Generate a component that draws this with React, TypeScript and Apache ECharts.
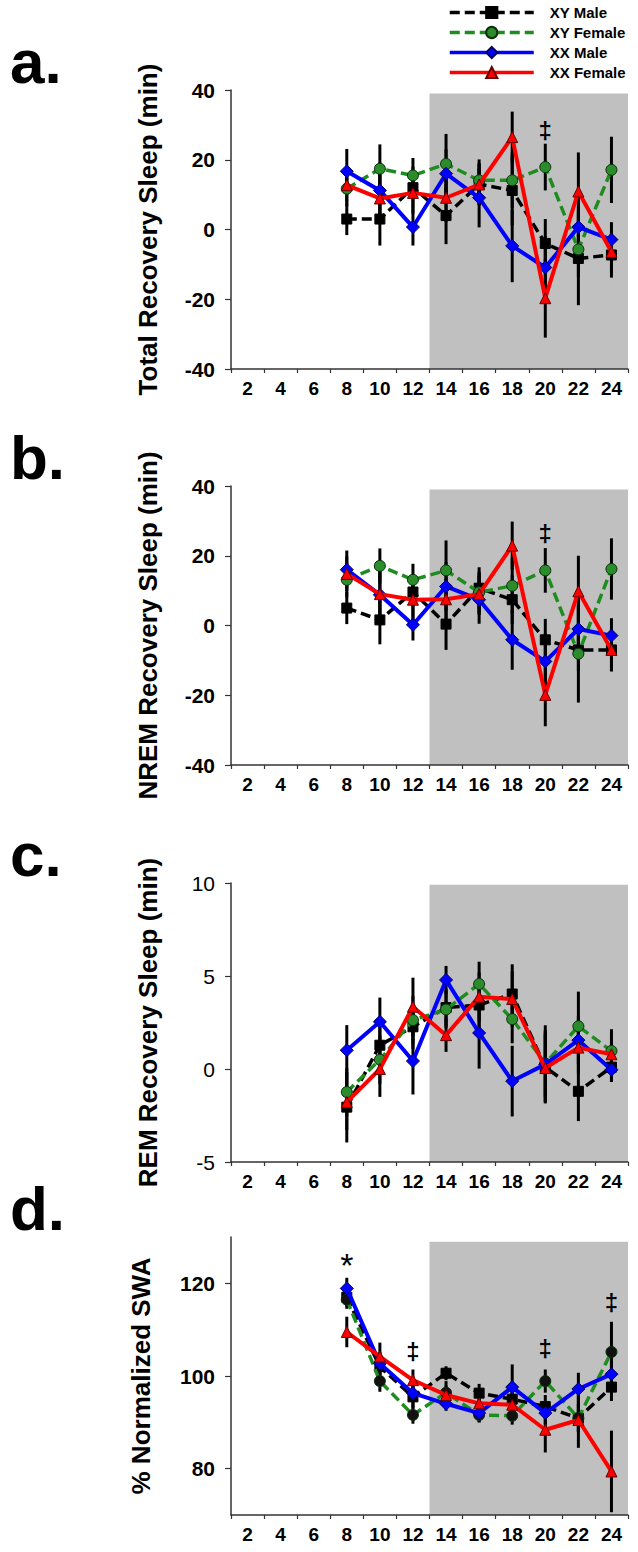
import React, { useEffect, useRef } from 'react';
import * as echarts from 'echarts';

// x axis categories (hour)
const hours = ['2', '4', '6', '8', '10', '12', '14', '16', '18', '20', '22', '24'];
const dataHours = ['8', '10', '12', '14', '16', '18', '20', '22', '24'];
const seriesNames = ['XY Male', 'XY Female', 'XX Male', 'XX Female'];
const shadeFrom = '14';
const shadeTo = '24';

// a. Total recovery sleep (min)
const totalXYMale = [3, 3, 12, 4, 13, 11.2, -4, -8.3, -7.3];
const totalXYMaleErr = [4.6, 7.6, 6, 8.2, 6, 10, 7, 13.4, 6.5];
const totalXYFemale = [11.7, 17.4, 15.5, 18.8, 14.1, 14.1, 17.9, -5.7, 17.1];
const totalXYFemaleErr = [5, 7, 5, 8.6, 6, 8, 6.7, 8, 9.5];
const totalXXMale = [16.7, 11.2, 0.7, 16, 9.1, -4.7, -10.9, 0.7, -2.9];
const totalXXMaleErr = [6.4, 8, 5.3, 7, 8.5, 10.4, 9, 9, 5];
const totalXXFemale = [12.7, 8.9, 10.5, 9.1, 12.9, 26.5, -19.7, 10.9, -6.4];
const totalXXFemaleErr = [5, 7, 6, 7, 6, 7.3, 11.3, 11.2, 6];
const totalTicks = [-40, -20, 0, 20, 40];

// b. NREM recovery sleep (min)
const nremXYMale = [5, 1.6, 9.6, 0.4, 10.7, 7.4, -4.1, -7, -7];
const nremXYMaleErr = [4.6, 7, 5, 7.4, 6, 7, 6, 6, 6];
const nremXYFemale = [13.1, 17.1, 13.1, 15.8, 9.5, 11.4, 15.8, -8.1, 16.2];
const nremXYFemaleErr = [5, 5, 4.6, 8.6, 6, 8, 6.4, 14, 8.8];
const nremXXMale = [16, 8.8, 0.2, 11.2, 7.4, -4.1, -10.3, -1, -2.9];
const nremXXMaleErr = [5.5, 8, 4.5, 7, 6.9, 8.6, 8, 9, 5];
const nremXXFemale = [14.8, 9, 7.4, 7.5, 9, 22.9, -19.9, 9.8, -7];
const nremXXFemaleErr = [5, 7, 6, 6, 6, 6.9, 9, 10.2, 6.2];
const nremTicks = [-40, -20, 0, 20, 40];

// c. REM recovery sleep (min)
const remXYMale = [-2.05, 1.28, 2.27, 3.3, 3.44, 4.03, 0.1, -1.2, 0.1];
const remXYMaleErr = [1.9, 1.2, 1.2, 1.0, 1.3, 1.6, 1.9, 1.6, 0.8];
const remXYFemale = [-1.24, 0.5, 2.63, 3.2, 4.57, 2.68, 0.3, 2.3, 0.97];
const remXYFemaleErr = [1.3, 1.3, 1.3, 1.0, 1.2, 1.3, 1.8, 1.86, 1.17];
const remXXMale = [1.01, 2.54, 0.43, 4.79, 1.94, -0.65, 0.25, 1.55, -0.04];
const remXXMaleErr = [1.35, 1.3, 1.8, 0.75, 1.92, 1.9, 2.1, 1.3, 0.66];
const remXXFemale = [-1.78, 0, 3.35, 1.82, 3.89, 3.76, 0.05, 1.15, 0.79];
const remXXFemaleErr = [1.5, 1.5, 1.56, 0.9, 1.3, 1.5, 1.8, 1.4, 0.9];
const remTicks = [-5, 0, 5, 10];

// d. % normalized SWA
const swaXYMale = [117, 102, 95.5, 100.6, 96.3, 95, 93.4, 90.9, 97.6];
const swaXYMaleErr = [2, 2.5, 2.5, 1.5, 2, 3, 2.5, 3, 3];
const swaXYFemale = [116.5, 98.9, 91.6, 96.4, 91.6, 91.4, 98.9, 90.9, 105.2];
const swaXYFemaleErr = [2, 2.3, 1.9, 2.5, 1.6, 1.9, 2.5, 3, 6.5];
const swaXXMale = [118.9, 102.7, 96.3, 94, 92, 97.6, 92, 97.2, 100.4];
const swaXXMaleErr = [2.3, 2.5, 3, 1.5, 2, 4.9, 2.5, 3.5, 3];
const swaXXFemale = [109.5, 104.2, 99.1, 95.9, 94.1, 93.8, 88.4, 90.5, 79.4];
const swaXXFemaleErr = [3.3, 3, 2.3, 2, 2, 2.5, 4.9, 6, 8.8];
const swaTicks = [80, 100, 120];

// significance marks: [hour, value, symbol]
const notesA = [['20', 28.4, '‡']];
const notesB = [['20', 26.3, '‡']];
const notesC: any[] = [];
const notesD = [
  ['8', 124.0, '*'],
  ['12', 105.2, '‡'],
  ['20', 106, '‡'],
  ['24', 115.9, '‡'],
];

const FONT = '"Liberation Sans", Arial, sans-serif';

const styles = [
  { color: '#000000', symbol: 'rect', size: 10, dash: [10, 5], width: 3.5, fill: '#000000', border: '#000000' },
  { color: '#1f8c1f', symbol: 'circle', size: 11, dash: [10, 5], width: 3.5, fill: '#2a8c2a', border: '#0b2e0b' },
  { color: '#0000ff', symbol: 'diamond', size: 13, dash: 'solid', width: 4, fill: '#0000ff', border: '#000066' },
  { color: '#ff0000', symbol: 'triangle', size: 11, dash: 'solid', width: 4, fill: '#ff0000', border: '#660000' },
];

const panels = [
  {
    label: 'a.', title: 'Total Recovery Sleep (min)', min: -40, max: 40, ticks: totalTicks, shadeTop: 39, bold: true,
    top: 90, height: 279, titleX: 148,
    values: [totalXYMale, totalXYFemale, totalXXMale, totalXXFemale],
    errs: [totalXYMaleErr, totalXYFemaleErr, totalXXMaleErr, totalXXFemaleErr],
    notes: notesA, femaleMarker: null as string | null,
  },
  {
    label: 'b.', title: 'NREM Recovery Sleep (min)', min: -40, max: 40, ticks: nremTicks, shadeTop: 39, bold: true,
    top: 486, height: 279, titleX: 148,
    values: [nremXYMale, nremXYFemale, nremXXMale, nremXXFemale],
    errs: [nremXYMaleErr, nremXYFemaleErr, nremXXMaleErr, nremXXFemaleErr],
    notes: notesB, femaleMarker: null as string | null,
  },
  {
    label: 'c.', title: 'REM Recovery Sleep (min)', min: -5, max: 10, ticks: remTicks, shadeTop: 9.9, bold: false,
    top: 883, height: 279, titleX: 148,
    values: [remXYMale, remXYFemale, remXXMale, remXXFemale],
    errs: [remXYMaleErr, remXYFemaleErr, remXXMaleErr, remXXFemaleErr],
    notes: notesC, femaleMarker: null as string | null,
  },
  {
    label: 'd.', title: '% Normalized SWA', min: 70, max: 130, ticks: swaTicks, shadeTop: 129, bold: true,
    top: 1237, height: 278, titleX: 141,
    values: [swaXYMale, swaXYFemale, swaXXMale, swaXXFemale],
    errs: [swaXYMaleErr, swaXYFemaleErr, swaXXMaleErr, swaXXFemaleErr],
    notes: notesD, femaleMarker: '#111111' as string | null,
  },
];

function buildOption() {
  const grid: any[] = [];
  const xAxis: any[] = [];
  const yAxis: any[] = [];
  const series: any[] = [];
  const graphic: any[] = [];

  panels.forEach((p, i) => {
    grid.push({ left: 231, right: 10, top: p.top, height: p.height, containLabel: false });
    xAxis.push({
      type: 'category', gridIndex: i, data: hours, boundaryGap: true,
      axisLine: { onZero: false, lineStyle: { color: '#333', width: 1.5 } },
      axisTick: { show: true, length: 4, interval: 0, lineStyle: { color: '#333', width: 1.2 } },
      axisLabel: { interval: 0, margin: 10, fontFamily: FONT, fontWeight: 'bold', fontSize: 19, color: '#000' },
      splitLine: { show: false },
    });
    yAxis.push({
      type: 'value', gridIndex: i, min: p.min, max: p.max,
      axisLine: { show: true, onZero: false, lineStyle: { color: '#333', width: 1.5 } },
      axisTick: { show: true, length: 6, customValues: p.ticks, lineStyle: { color: '#333', width: 1.2 } },
      axisLabel: {
        customValues: p.ticks, margin: 16, fontFamily: FONT,
        fontWeight: p.bold ? 'bold' : 'normal', fontSize: 21, color: '#000',
      },
      splitLine: { show: false },
    });

    // shaded dark period
    series.push({
      type: 'custom', xAxisIndex: i, yAxisIndex: i, silent: true, z: 0,
      data: [[shadeFrom, p.shadeTop]],
      renderItem: (params: any, api: any) => {
        const i0 = hours.indexOf(shadeFrom);
        const i1 = hours.indexOf(shadeTo);
        const a = api.coord([i0, p.shadeTop]);
        const b = api.coord([i1, p.min]);
        const bw = api.coord([i0 + 1, p.min])[0] - api.coord([i0, p.min])[0];
        return {
          type: 'rect',
          shape: { x: a[0] - bw / 2, y: a[1], width: b[0] - a[0] + bw, height: b[1] - a[1] },
          style: { fill: '#c0c0c0' },
        };
      },
    });

    // error bars
    p.values.forEach((vals, s) => {
      series.push({
        type: 'custom', xAxisIndex: i, yAxisIndex: i, silent: true, z: 1,
        encode: { x: 0, y: 1 },
        data: dataHours.map((h, k) => [h, vals[k], p.errs[s][k]]),
        renderItem: (params: any, api: any) => {
          const x = api.value(0);
          const v = api.value(1);
          const e = api.value(2);
          const t = api.coord([x, v + e]);
          const bt = api.coord([x, v - e]);
          return {
            type: 'line',
            shape: { x1: t[0], y1: t[1], x2: bt[0], y2: bt[1] },
            style: { stroke: '#000', lineWidth: 3 },
          };
        },
      });
    });

    // lines
    p.values.forEach((vals, s) => {
      const st = styles[s];
      const fill = s === 1 && p.femaleMarker ? p.femaleMarker : st.fill;
      series.push({
        type: 'line', name: seriesNames[s], xAxisIndex: i, yAxisIndex: i, z: 3 + s,
        data: dataHours.map((h, k) => [h, vals[k]]),
        symbol: st.symbol, symbolSize: st.size, showSymbol: true,
        lineStyle: { color: st.color, width: st.width, type: st.dash },
        itemStyle: { color: fill, borderColor: st.border, borderWidth: 1 },
        emphasis: { disabled: true },
      });
    });

    // significance marks
    if (p.notes.length) {
      series.push({
        type: 'custom', xAxisIndex: i, yAxisIndex: i, silent: true, z: 10,
        encode: { x: 0, y: 1 },
        data: p.notes,
        renderItem: (params: any, api: any) => {
          const pt = api.coord([api.value(0), api.value(1)]);
          const txt = p.notes[params.dataIndex][2] as string;
          const big = txt === '*';
          return {
            type: 'text',
            x: pt[0], y: pt[1],
            style: {
              text: txt, fill: '#000',
              font: big ? `34px ${FONT}` : `bold 24px ${FONT}`,
              textAlign: 'center', textVerticalAlign: 'middle',
            },
          };
        },
      });
    }

    graphic.push({
      type: 'text', x: 10, y: p.top - 29, z: 100,
      style: { text: p.label, font: `bold 62px ${FONT}`, fill: '#000', textAlign: 'left', textVerticalAlign: 'middle' },
    });
    graphic.push({
      type: 'text', x: p.titleX, y: p.top + p.height / 2, rotation: Math.PI / 2, z: 100,
      style: { text: p.title, font: `bold 26px ${FONT}`, fill: '#000', textAlign: 'center', textVerticalAlign: 'middle' },
    });
  });

  return {
    animation: false,
    backgroundColor: '#ffffff',
    grid, xAxis, yAxis, series, graphic,
    legend: {
      data: seriesNames, orient: 'vertical', left: 448, top: 5,
      itemWidth: 84, itemHeight: 14, itemGap: 5, padding: 0,
      selectedMode: false,
      lineStyle: { width: 3.5 },
      textStyle: { fontFamily: FONT, fontWeight: 'bold', fontSize: 15, color: '#000', padding: [0, 0, 0, 11] },
    },
  };
}

export default function App() {
  const ref = useRef<HTMLDivElement>(null);
  useEffect(() => {
    if (!ref.current) return;
    const chart = echarts.init(ref.current, undefined, { renderer: 'svg' });
    chart.setOption(buildOption() as any);
    return () => chart.dispose();
  }, []);
  return (
    <div
      ref={ref}
      style={{ position: 'absolute', left: 0, top: 0, width: 638, height: 1552, background: '#fff' }}
    />
  );
}
